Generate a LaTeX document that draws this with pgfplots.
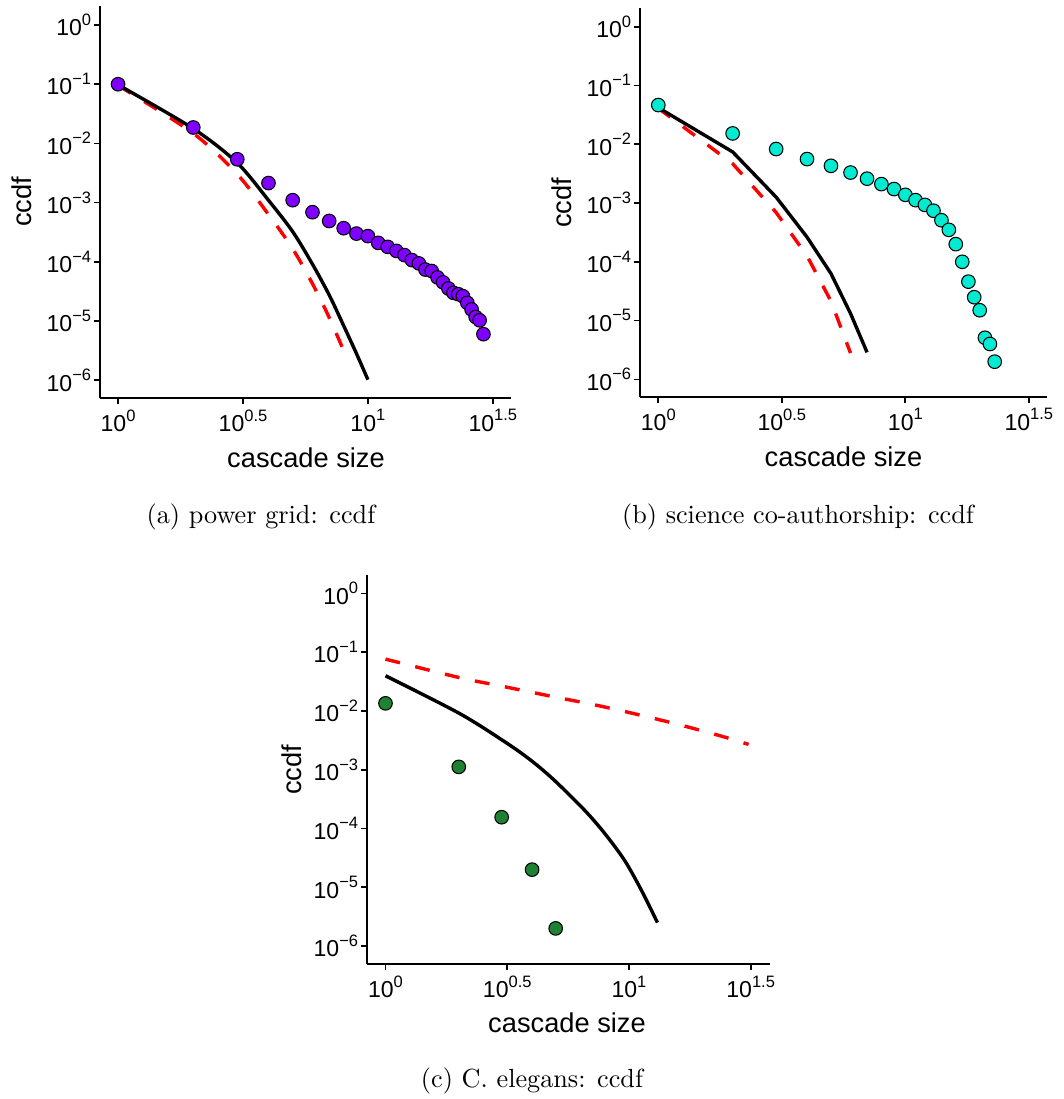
\documentclass[border=0pt]{standalone}
\usepackage{fontspec}
\usepackage{pgfplots}
\pgfplotsset{compat=1.18}
\newfontfamily\arial{Liberation Sans}
\definecolor{cpurple}{RGB}{127,0,255}
\definecolor{ccyan}{RGB}{0,235,210}
\definecolor{cgreen}{RGB}{30,130,50}
\definecolor{cred}{RGB}{255,0,0}
\newcommand{\tlab}[1]{10\raisebox{0.85ex}{\fontsize{6.3}{7}\selectfont #1}}
\pgfplotsset{
  myaxis/.style={
    scale only axis,
    axis lines=left,
    axis line style={-, line width=0.65pt},
    every tick/.style={black, line width=0.65pt},
    tick align=outside,
    major tick length=2.2pt,
    xminorticks=false, yminorticks=false,
    xtick={1,3.16227766,10,31.6227766},
    xticklabels={\tlab{0},\tlab{0.5},\tlab{1},\tlab{1.5}},
    ytick={0.000001,0.00001,0.0001,0.001,0.01,0.1,1},
    yticklabels={\tlab{−6},\tlab{−5},\tlab{−4},\tlab{−3},\tlab{−2},\tlab{−1},\tlab{0}},
    ticklabel style={font=\arial\fontsize{8.8}{10}\selectfont},
    xticklabel style={inner sep=2pt},
    yticklabel style={inner sep=1pt},
  },
  myblack/.style={black, line width=1.3pt, no marks},
  myred/.style={cred, line width=1.3pt, no marks, dash pattern=on 5.7pt off 6pt},
  mypts/.style={only marks, mark=*, mark size=2.6pt, mark options={fill=#1, draw=black, line width=0.4pt}},
}
\begin{document}
\begin{tikzpicture}
\path[use as bounding box] (0pt,0pt) rectangle (406.13pt,-419.49pt);

% ---------------- (a) power grid
\begin{loglogaxis}[myaxis, at={(38.17pt,-151.92pt)}, anchor=south west,
  width=156.9pt, height=149.6pt,
  xmin=0.8466, xmax=37.41, ymin=5.012e-7, ymax=2.089]
\addplot[myred, smooth] coordinates {(1,0.0955) (2,0.01479) (3,0.00302) (4,6.31e-4) (5,1.66e-4) (6,4.27e-5) (7,1.148e-5) (8,3.16e-6)};
\addplot[myblack, smooth] coordinates {(1,0.0977) (2,0.01778) (3,0.004677) (4,0.001096) (5,3.236e-4) (6,9.12e-5) (7,2.754e-5) (8,8.32e-6) (9,2.818e-6) (10,1.023e-6)};
\addplot[mypts=cpurple] coordinates {
(1,0.1) (2,0.0186) (3,0.0054) (4,0.00214) (5,0.0011) (6,6.9e-4) (7,4.9e-4) (8,3.7e-4) (9,3.0e-4) (10,2.72e-4)
(11,2.09e-4) (12,1.79e-4) (13,1.53e-4) (14,1.30e-4) (15,1.07e-4) (16,9.4e-5) (17,7.4e-5) (18,7.0e-5) (19,5.45e-5) (20,4.5e-5)
(21,3.55e-5) (22,2.99e-5) (23,2.84e-5) (24,2.63e-5) (25,2.03e-5) (26,1.57e-5) (27,1.17e-5) (28,1.03e-5) (29,6.0e-6)};
\end{loglogaxis}

% ---------------- (b) science co-authorship
\begin{loglogaxis}[myaxis, at={(244.29pt,-151.53pt)}, anchor=south west,
  width=155.3pt, height=148.5pt,
  xmin=0.8433, xmax=37.41, ymin=5.012e-7, ymax=2.089]
\addplot[myred] coordinates {(1,0.041) (2,0.00468) (3,6.9e-4) (4,1.26e-4) (5,2.14e-5) (6,2.8e-6)};
\addplot[myblack] coordinates {(1,0.042) (2,0.00741) (3,0.00126) (4,2.63e-4) (5,6.3e-5) (6,1.32e-5) (7,2.88e-6)};
\addplot[mypts=ccyan] coordinates {
(1,0.0465) (2,0.0153) (3,0.0083) (4,0.0056) (5,0.0043) (6,0.0033) (7,0.0026) (8,0.0021) (9,0.00173) (10,0.00138)
(11,0.00112) (12,9.3e-4) (13,7.4e-4) (14,5.1e-4) (15,3.5e-4) (16,2.0e-4) (17,1.0e-4) (18,4.6e-5) (19,2.5e-5) (20,1.5e-5)
(21,5.1e-6) (22,4.0e-6) (23,2.0e-6)};
\end{loglogaxis}

% ---------------- (c) C. elegans
\begin{loglogaxis}[myaxis, at={(140.08pt,-368.07pt)}, anchor=south west,
  width=153.8pt, height=148.5pt,
  xmin=0.8395, xmax=37.93, ymin=4.898e-7, ymax=2.042]
\addplot[myred, smooth] coordinates {(1,0.0764) (2,0.0372) (3,0.0265) (5,0.0172) (7,0.0131) (10,0.00944) (15,0.0063) (20,0.0046) (25,0.00355) (31,0.0027)};
\addplot[myblack, smooth] coordinates {(1,0.0398) (2.01,0.00912) (3.08,0.00302) (3.96,0.001445) (4.94,6.61e-4) (6.58,2.04e-4) (7.94,8.32e-5) (9.59,2.88e-5) (11.25,8.91e-6) (13.09,2.51e-6)};
\addplot[mypts=cgreen] coordinates {(1,0.0135) (2,1.12e-3) (3,1.56e-4) (4,2.0e-5) (5,2.0e-6)};
\end{loglogaxis}

% axis labels
\begin{scope}[font=\arial\fontsize{10.4}{12}\selectfont]
\node at (116.80pt,-174.82pt) {cascade size};
\node[rotate=90] at (8.40pt,-77.10pt) {ccdf};
\node at (321.96pt,-174.43pt) {cascade size};
\node[rotate=90] at (214.52pt,-77.49pt) {ccdf};
\node at (216.42pt,-390.48pt) {cascade size};
\node[rotate=90] at (111.46pt,-293.91pt) {ccdf};
\end{scope}
% captions
\begin{scope}[font=\fontsize{10}{12}\selectfont]
\node at (99.62pt,-197.34pt) {(a) power grid: ccdf};
\node at (304.60pt,-197.34pt) {(b) science co-authorship: ccdf};
\node at (203.06pt,-412.62pt) {(c) C. elegans: ccdf};
\end{scope}
\end{tikzpicture}
\end{document}
